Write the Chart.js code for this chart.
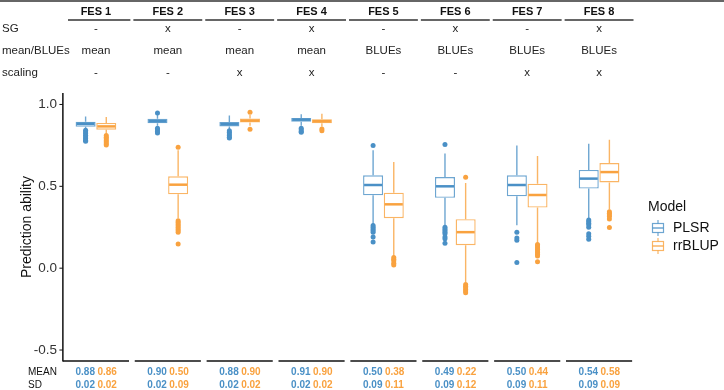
<!DOCTYPE html>
<html>
<head>
<meta charset="utf-8">
<script src="https://cdn.jsdelivr.net/npm/chart.js@4.4.0/dist/chart.umd.min.js"></script>
<style>
  body { margin: 0; background: #fff; }
  #wrap { width: 724px; height: 390px; position: relative; }
</style>
</head>
<body>
<div id="wrap"><canvas id="chart"></canvas></div>
<script>
// feature engineering strategies (panels)
const fesLabels = ['FES 1', 'FES 2', 'FES 3', 'FES 4', 'FES 5', 'FES 6', 'FES 7', 'FES 8'];

// header table rows
const rowNames = ['SG', 'mean/BLUEs', 'scaling'];
const sgRow = ['-', 'x', '-', 'x', '-', 'x', '-', 'x'];
const meanBluesRow = ['mean', 'mean', 'mean', 'mean', 'BLUEs', 'BLUEs', 'BLUEs', 'BLUEs'];
const scalingRow = ['-', '-', 'x', 'x', '-', '-', 'x', 'x'];

// PLSR box stats
const plsrLow    = [0.850, 0.870, 0.850, 0.870, 0.270, 0.260, 0.262, 0.305];
const plsrQ1     = [0.864, 0.885, 0.866, 0.895, 0.445, 0.430, 0.439, 0.486];
const plsrMedian = [0.882, 0.898, 0.880, 0.907, 0.508, 0.500, 0.508, 0.547];
const plsrQ3     = [0.895, 0.912, 0.893, 0.918, 0.567, 0.557, 0.567, 0.600];
const plsrHigh   = [0.927, 0.935, 0.933, 0.940, 0.720, 0.700, 0.750, 0.760];
const plsrOutliers = [
  [0.842, 0.832, 0.822, 0.812, 0.802, 0.792, 0.782, 0.775],
  [0.948, 0.855, 0.845, 0.835, 0.825],
  [0.840, 0.830, 0.820, 0.810, 0.800, 0.795],
  [0.855, 0.845, 0.835, 0.830],
  [0.750, 0.260, 0.250, 0.240, 0.230, 0.220, 0.190, 0.160],
  [0.756, 0.250, 0.240, 0.230, 0.220, 0.210, 0.190, 0.180, 0.152],
  [0.220, 0.185, 0.170, 0.035],
  [0.295, 0.285, 0.275, 0.265, 0.250, 0.210, 0.195, 0.177]
];

// rrBLUP box stats
const rrLow    = [0.822, 0.305, 0.870, 0.865, 0.075, -0.085, 0.155, 0.358];
const rrQ1     = [0.846, 0.451, 0.890, 0.885, 0.305, 0.140, 0.370, 0.524];
const rrMedian = [0.866, 0.510, 0.902, 0.898, 0.390, 0.220, 0.447, 0.587];
const rrQ3     = [0.887, 0.561, 0.915, 0.910, 0.461, 0.299, 0.516, 0.642];
const rrHigh   = [0.923, 0.720, 0.935, 0.943, 0.648, 0.520, 0.685, 0.784];
const rrOutliers = [
  [0.810, 0.800, 0.790, 0.780, 0.770, 0.760, 0.752],
  [0.738, 0.290, 0.280, 0.270, 0.260, 0.250, 0.240, 0.230, 0.220, 0.148],
  [0.953, 0.848],
  [0.850, 0.840],
  [0.065, 0.055, 0.045, 0.030, 0.020],
  [0.555, -0.100, -0.110, -0.120, -0.130, -0.140, -0.150],
  [0.145, 0.135, 0.125, 0.115, 0.105, 0.095, 0.085, 0.075, 0.040],
  [0.345, 0.335, 0.325, 0.315, 0.300, 0.248]
];

// summary table under the plot
const plsrMean = ['0.88', '0.90', '0.88', '0.91', '0.50', '0.49', '0.50', '0.54'];
const rrMean   = ['0.86', '0.50', '0.90', '0.90', '0.38', '0.22', '0.44', '0.58'];
const plsrSd   = ['0.02', '0.02', '0.02', '0.02', '0.09', '0.09', '0.09', '0.09'];
const rrSd     = ['0.02', '0.09', '0.02', '0.02', '0.11', '0.12', '0.11', '0.09'];

const BLUE = '#4A90C6';
const BLUE_LINE = 'rgba(74,144,198,0.8)';
const ORANGE = '#F9A23F';
const ORANGE_LINE = 'rgba(249,162,63,0.8)';
const FONT = '"Liberation Sans", Arial, sans-serif';

const boxStats = [
  { name: 'PLSR', color: BLUE, line: BLUE_LINE, low: plsrLow, q1: plsrQ1, med: plsrMedian, q3: plsrQ3, high: plsrHigh, out: plsrOutliers },
  { name: 'rrBLUP', color: ORANGE, line: ORANGE_LINE, low: rrLow, q1: rrQ1, med: rrMedian, q3: rrQ3, high: rrHigh, out: rrOutliers }
];

function hline(ctx, x1, x2, y) {
  ctx.beginPath(); ctx.moveTo(x1, y); ctx.lineTo(x2, y); ctx.stroke();
}

// whiskers, medians, outliers, tables and legend
const boxPlugin = {
  id: 'boxes',
  afterDatasetsDraw(chart) {
    const ctx = chart.ctx;
    const ys = chart.scales.y;
    boxStats.forEach((st, i) => {
      const meta = chart.getDatasetMeta(i);
      meta.data.forEach((bar, j) => {
        const x = bar.x, half = bar.width / 2;
        ctx.save();
        ctx.strokeStyle = st.line;
        ctx.lineWidth = 1.4;
        ctx.beginPath();
        ctx.moveTo(x, ys.getPixelForValue(st.q3[j])); ctx.lineTo(x, ys.getPixelForValue(st.high[j]));
        ctx.moveTo(x, ys.getPixelForValue(st.q1[j])); ctx.lineTo(x, ys.getPixelForValue(st.low[j]));
        ctx.stroke();
        ctx.strokeStyle = st.color;
        ctx.lineWidth = 2.5;
        hline(ctx, x - half + 1, x + half - 1, ys.getPixelForValue(st.med[j]));
        ctx.fillStyle = st.color;
        st.out[j].forEach(v => {
          ctx.beginPath();
          ctx.arc(x, ys.getPixelForValue(v), 2.5, 0, Math.PI * 2);
          ctx.fill();
        });
        ctx.restore();
      });
    });
  },
  afterDraw(chart) {
    const ctx = chart.ctx;
    const xs = chart.scales.x, ys = chart.scales.y;
    const area = chart.chartArea;
    const step = xs.getPixelForValue(1) - xs.getPixelForValue(0);
    const segHalf = step * 0.46;
    const axisX = xs.getPixelForValue(0) - segHalf;
    ctx.save();

    // y axis line + ticks
    ctx.strokeStyle = '#111';
    ctx.lineWidth = 1.5;
    ctx.beginPath(); ctx.moveTo(axisX, area.top); ctx.lineTo(axisX, area.bottom + 0.5); ctx.stroke();
    ctx.lineWidth = 1;
    ys.ticks.forEach(t => hline(ctx, axisX - 3.5, axisX, ys.getPixelForValue(t.value)));

    // broken x axis, one piece per panel
    ctx.lineWidth = 1.6;
    fesLabels.forEach((l, j) => {
      const c = xs.getPixelForValue(j);
      hline(ctx, c - segHalf, c + segHalf, area.bottom);
    });

    // header table
    ctx.strokeStyle = '#333';
    ctx.lineWidth = 1.4;
    hline(ctx, 0, 724, 1);
    ctx.textBaseline = 'middle';
    ctx.fillStyle = '#111';
    ctx.textAlign = 'center';
    ctx.font = 'bold 11px ' + FONT;
    fesLabels.forEach((l, j) => {
      const c = xs.getPixelForValue(j);
      ctx.fillText(l, c, 12);
      hline(ctx, Math.max(c - step / 2 + 1.5, 68), c + step / 2 - 1.5, 20);
    });
    ctx.font = '11.5px ' + FONT;
    ctx.fillStyle = '#222';
    const rows = [sgRow, meanBluesRow, scalingRow];
    const rowY = [29, 51, 73];
    rows.forEach((row, r) => {
      ctx.textAlign = 'left';
      ctx.fillText(rowNames[r], 2, rowY[r]);
      ctx.textAlign = 'center';
      row.forEach((v, j) => ctx.fillText(v, xs.getPixelForValue(j), rowY[r]));
    });

    // summary table
    ctx.font = '10px ' + FONT;
    ctx.textAlign = 'left';
    ctx.fillStyle = '#111';
    ctx.fillText('MEAN', 28, 372);
    ctx.fillText('SD', 28, 385);
    ctx.font = 'bold 10px ' + FONT;
    [[plsrMean, rrMean, 372], [plsrSd, rrSd, 385]].forEach(([a, b, yy]) => {
      fesLabels.forEach((l, j) => {
        const c = xs.getPixelForValue(j);
        ctx.textAlign = 'right';
        ctx.fillStyle = BLUE;
        ctx.fillText(a[j], c - 1, yy);
        ctx.textAlign = 'left';
        ctx.fillStyle = ORANGE;
        ctx.fillText(b[j], c + 1.5, yy);
      });
    });

    // legend
    ctx.textAlign = 'left';
    ctx.fillStyle = '#111';
    ctx.font = '14px ' + FONT;
    ctx.fillText('Model', 648, 207);
    boxStats.forEach((st, i) => {
      const cy = 228 + i * 18, cx = 658;
      ctx.strokeStyle = st.line;
      ctx.lineWidth = 1.2;
      ctx.beginPath(); ctx.moveTo(cx, cy - 8); ctx.lineTo(cx, cy + 8); ctx.stroke();
      ctx.fillStyle = '#fff';
      ctx.fillRect(cx - 5.5, cy - 4.5, 11, 9);
      ctx.strokeRect(cx - 5.5, cy - 4.5, 11, 9);
      ctx.strokeStyle = st.color;
      hline(ctx, cx - 5.5, cx + 5.5, cy);
      ctx.fillStyle = '#111';
      ctx.font = '14px ' + FONT;
      ctx.fillText(st.name, 673, cy);
    });
    ctx.restore();
  }
};

const chartData = {
  labels: fesLabels,
  datasets: boxStats.map(st => ({
    label: st.name,
    data: st.q1.map((q, j) => [q, st.q3[j]]),
    backgroundColor: '#fff',
    borderColor: st.line,
    borderWidth: 1.4,
    borderSkipped: false,
    categoryPercentage: 0.575,
    barPercentage: 0.97
  }))
};

new Chart(document.getElementById('chart').getContext('2d'), {
  type: 'bar',
  data: chartData,
  options: {
    responsive: true,
    maintainAspectRatio: false,
    animation: false,
    layout: { padding: { left: 0, right: 89, top: 93, bottom: 29 } },
    plugins: { legend: { display: false }, tooltip: { enabled: false } },
    scales: {
      x: { display: false },
      y: {
        min: -0.567,
        max: 1.07,
        afterFit: s => { s.width = 60; },
        grid: { display: false, drawTicks: false },
        border: { display: false },
        ticks: {
          stepSize: 0.5,
          includeBounds: false,
          padding: 3,
          color: '#333',
          font: { family: FONT, size: 13.5 },
          callback: v => v.toFixed(1)
        },
        title: {
          display: true,
          text: 'Prediction ability',
          color: '#111',
          font: { family: FONT, size: 14 },
          padding: { top: 19, bottom: 0 }
        }
      }
    }
  },
  plugins: [boxPlugin]
});
</script>
</body>
</html>
